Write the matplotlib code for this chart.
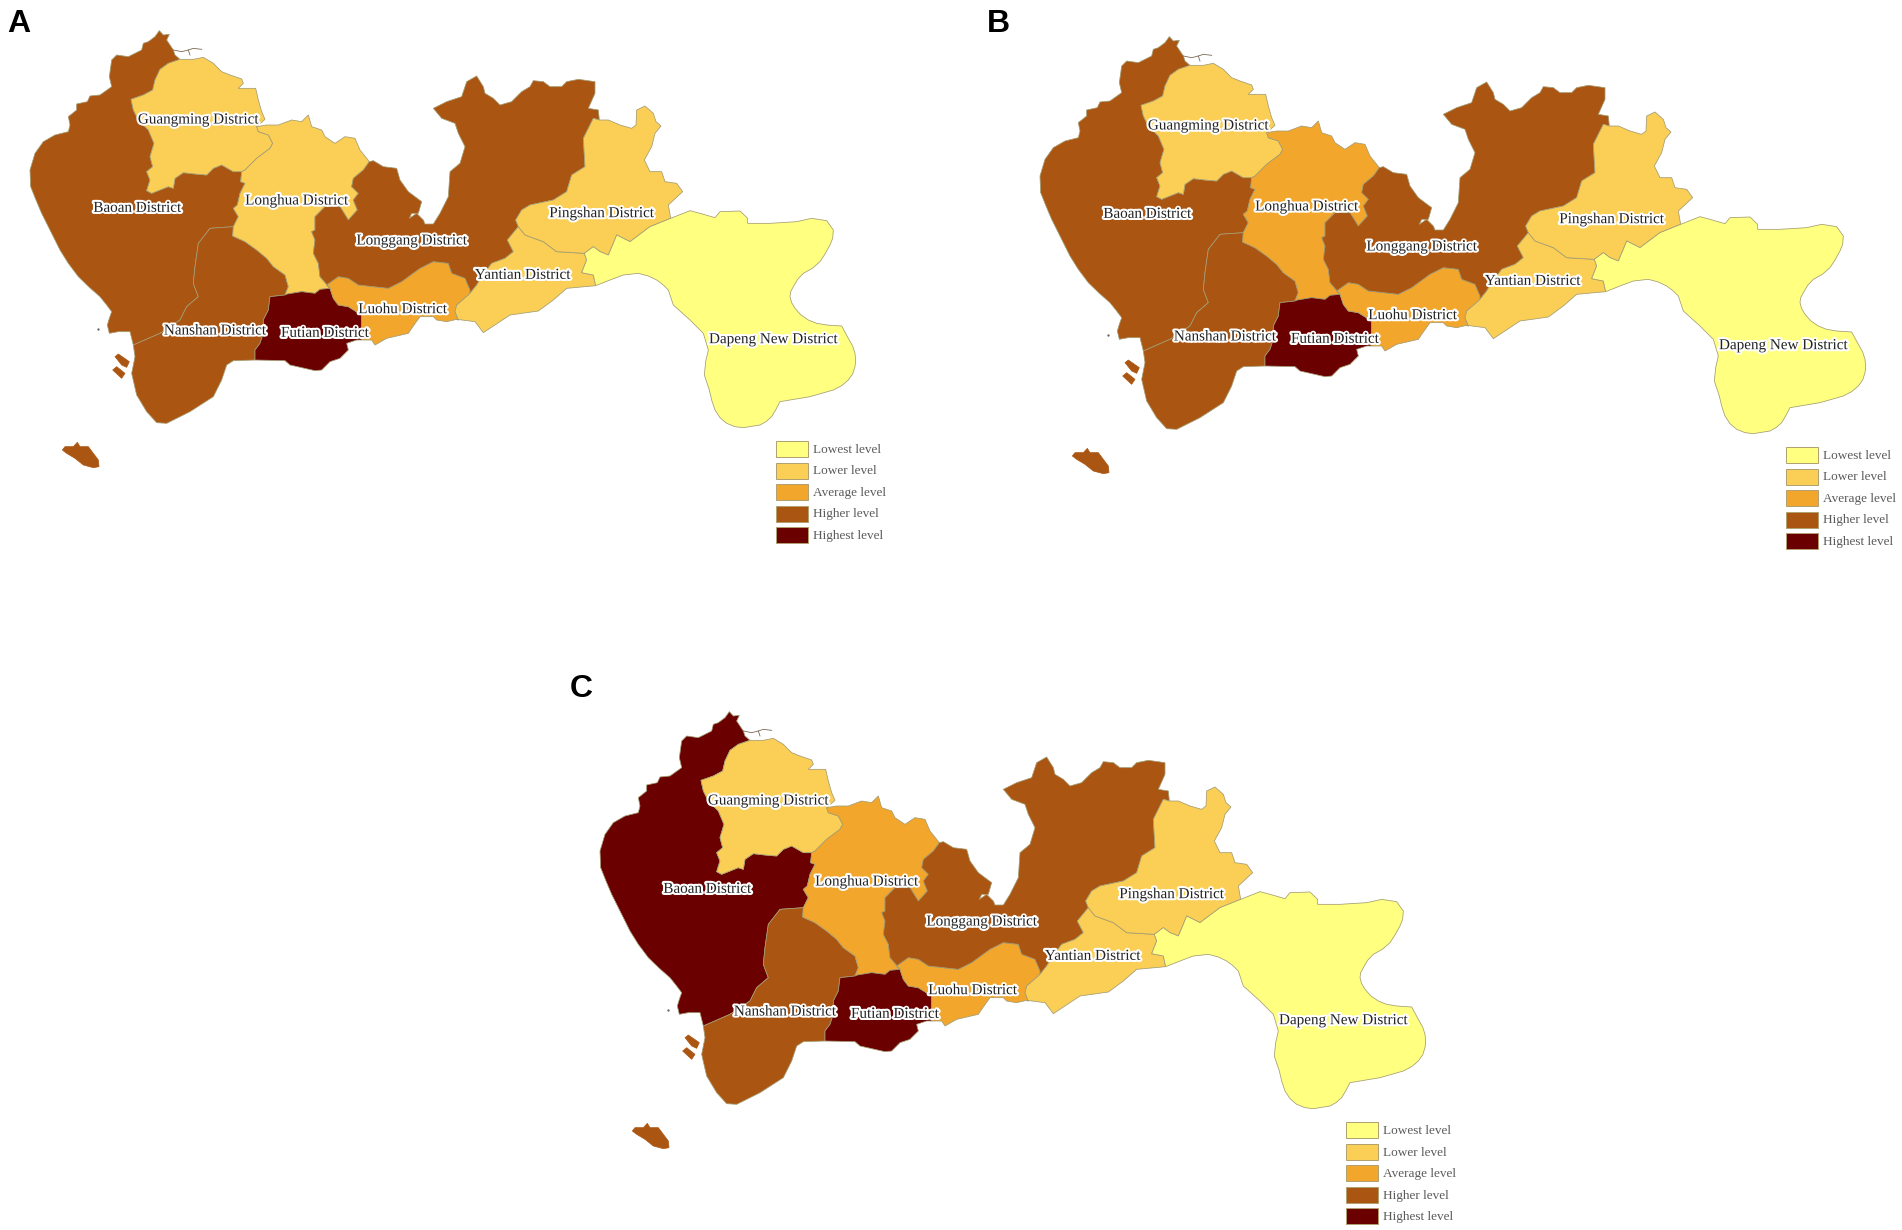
import numpy as np, matplotlib
matplotlib.use('Agg'); import matplotlib.pyplot as plt
from matplotlib.patches import Polygon, Rectangle
import matplotlib.patheffects as pe

# district borders, map units are 1/3 px of panel A
baoan_guangming=[(540,178),(505,190),(480,208),(465,240),(458,270),(430,285),(393,298),(400,330),(415,360),(445,390),(462,430),(450,470),(458,500),(440,515),(450,540),(440,572),(455,580),(480,570),(505,560),(520,565),(525,535),(550,518),(585,522),(620,525),(640,505),(665,495),(700,515),(725,515)]
baoan_longhua=[(725,515),(722,545),(735,550),(720,580),(712,615),(700,625),(715,650),(700,680)]
baoan_nanshan=[(700,680),(630,685),(595,730),(585,800),(580,850),(595,890),(560,920),(540,960),(480,1000),(400,1035)]
baoan_coast=[(400,1035),(390,995),(355,995),(328,1000),(322,975),(328,955),(335,935),(320,915),(300,890),(268,862),(235,830),(205,790),(180,750),(150,690),(125,640),(108,600),(92,560),(90,510),(105,460),(130,425),(165,405),(205,395),(210,375),(205,350),(230,330),(230,312),(262,305),(270,288),(300,285),(335,260),(328,230),(335,180),(350,165),(385,170),(425,150),(430,130),(445,125),(465,110),(478,92),(490,105),(508,103),(500,120),(520,150),(525,165),(540,178)]
nanshan_longhua=[(700,680),(698,708),(735,725),(770,750),(800,775),(820,800),(855,825),(865,860),(855,885)]
nanshan_futian=[(855,885),(810,890),(805,930),(790,960),(790,1000),(780,1030),(765,1050),(765,1080)]
nanshan_coast=[(765,1080),(700,1082),(680,1095),(665,1140),(640,1190),(570,1235),(500,1270),(470,1268),(440,1235),(410,1185),(395,1120),(405,1070),(400,1035)]
guangming_north=[(540,178),(580,178),(610,172),(640,190),(665,215),(690,225),(725,237),(730,250),(715,265),(745,265),(767,265),(775,300),(785,335),(795,358),(770,380)]
guangming_longhua=[(770,380),(775,395),(805,405),(818,430),(810,445),(770,475),(735,510),(725,515)]
longhua_north=[(770,380),(800,375),(835,375),(875,360),(905,365),(925,345),(935,380),(965,390),(975,410),(1005,430),(1035,410),(1065,415),(1080,450),(1108,485)]
longhua_longgang=[(1108,485),(1090,510),(1060,535),(1055,560),(1075,580),(1060,600),(1072,630),(1045,660),(1020,620),(975,620),(945,650),(945,690),(935,695),(945,720),(940,760),(955,790),(960,830),(990,865)]
longhua_futian=[(990,865),(960,868),(945,880),(905,875),(862,882),(855,885)]
futian_luohu=[(990,865),(1000,895),(1015,915),(1045,920),(1085,945),(1085,1020)]
futian_coast=[(1085,1020),(1070,1020),(1040,1030),(1045,1050),(1020,1075),(990,1085),(965,1110),(945,1112),(870,1095),(855,1082),(765,1080)]
longgang_luohu=[(990,865),(980,855),(1015,830),(1045,835),(1075,855),(1120,860),(1165,865),(1205,845),(1260,805),(1300,785),(1345,790),(1355,820),(1395,835),(1410,870),(1410,880)]
longgang_north=[(1108,485),(1120,482),(1150,500),(1190,505),(1200,540),(1225,575),(1265,605),(1255,640),(1235,640),(1228,655),(1250,640),(1270,660),(1275,672),(1300,672),(1320,640),(1345,590),(1350,515),(1380,490),(1395,440),(1375,400),(1365,370),(1325,355),(1300,325),(1340,305),(1385,290),(1400,245),(1430,228),(1450,260),(1455,280),(1480,295),(1500,315),(1535,305),(1565,275),(1590,260),(1600,242),(1630,245),(1650,260),(1685,260),(1700,245),(1735,238),(1785,245),(1785,280),(1765,325),(1795,330),(1798,360)]
longgang_pingshan=[(1798,360),(1780,355),(1750,415),(1755,500),(1715,525),(1700,575),(1660,600),(1590,615),(1565,630),(1547,660),(1555,680)]
longgang_yantian=[(1555,680),(1522,720),(1540,755),(1515,775),(1475,790),(1445,830),(1430,855),(1410,880)]
luohu_yantian=[(1410,880),(1405,885),(1370,915),(1365,935),(1375,960),(1370,958)]
luohu_coast=[(1370,958),(1340,965),(1310,960),(1300,950),(1260,950),(1235,985),(1225,1000),(1160,1015),(1125,1035),(1115,1020),(1085,1020)]
yantian_pingshan=[(1555,680),(1575,705),(1630,725),(1670,755),(1753,760)]
yantian_dapeng=[(1753,760),(1760,780),(1745,818),(1780,825),(1787,857)]
yantian_coast=[(1787,857),(1700,865),(1660,900),(1615,933),(1530,945),(1450,998),(1425,965),(1370,958)]
pingshan_north=[(1798,360),(1825,360),(1860,375),(1895,385),(1908,375),(1910,330),(1935,318),(1960,340),(1968,365),(1983,378),(1965,400),(1955,440),(1933,480),(1950,515),(1985,515),(1995,545),(2030,550),(2048,575),(2005,615),(2012,655)]
pingshan_dapeng=[(2012,655),(1950,680),(1890,725),(1850,705),(1840,730),(1825,765),(1800,755),(1780,740),(1753,760)]
dapeng_coast=[(2012,655),(2070,632),(2100,640),(2145,653),(2160,635),(2220,633),(2243,655),(2243,670),(2310,670),(2390,665),(2435,655),(2480,662),(2500,690),(2498,715),(2490,735),(2475,762),(2460,785),(2437,805),(2410,820),(2393,838),(2380,860),(2372,875),(2370,890),(2375,908),(2385,925),(2403,945),(2425,960),(2450,970),(2480,975),(2525,978),(2545,1015),(2558,1038),(2565,1060),(2567,1082),(2565,1100),(2558,1122),(2545,1140),(2525,1157),(2500,1170),(2430,1190),(2340,1205),(2328,1228),(2315,1250),(2298,1265),(2280,1275),(2230,1283),(2205,1280),(2180,1270),(2160,1253),(2145,1230),(2135,1200),(2128,1170),(2113,1125),(2117,1085),(2125,1050),(2110,1000),(2070,960),(2020,915),(2005,870),(1990,855),(1970,840),(1945,828),(1915,820),(1870,825),(1830,840),(1787,857)]
island_big=[(187,1350),(195,1340),(220,1340),(232,1327),(240,1340),(265,1340),(280,1360),(295,1380),(297,1400),(280,1403),(250,1395),(225,1375),(200,1360)]
island_n=[(345,1070),(355,1062),(388,1085),(380,1102),(365,1095)]
island_s=[(338,1110),(350,1100),(375,1120),(365,1135)]
inlet_a=[(520,150),(545,155),(565,150),(580,145),(605,148)]
inlet_b=[(565,150),(570,165)]

def rev(e): return e[::-1]
districts={
 'Baoan':baoan_guangming+baoan_longhua+baoan_nanshan+baoan_coast,
 'Nanshan':rev(baoan_nanshan)+nanshan_longhua+nanshan_futian+nanshan_coast,
 'Guangming':guangming_north+guangming_longhua+rev(baoan_guangming),
 'Longhua':longhua_north+longhua_longgang+longhua_futian+rev(nanshan_longhua)+rev(baoan_longhua)+rev(guangming_longhua),
 'Futian':rev(longhua_futian)+futian_luohu+futian_coast+rev(nanshan_futian),
 'Luohu':longgang_luohu+luohu_yantian+luohu_coast+rev(futian_luohu),
 'Longgang':longgang_north+longgang_pingshan+longgang_yantian+rev(longgang_luohu)+rev(longhua_longgang),
 'Yantian':yantian_pingshan+yantian_dapeng+yantian_coast+rev(luohu_yantian)+rev(longgang_yantian),
 'Pingshan':pingshan_north+pingshan_dapeng+rev(yantian_pingshan)+rev(longgang_pingshan),
 'Dapeng':dapeng_coast+rev(yantian_dapeng)+rev(pingshan_dapeng),
}
names=['Baoan','Nanshan','Guangming','Longhua','Futian','Luohu','Longgang','Yantian','Pingshan','Dapeng']
labels=['Baoan District','Nanshan District','Guangming District','Longhua District','Futian District','Luohu District','Longgang District','Yantian District','Pingshan District','Dapeng New District']
label_x=[412,645,595,890,975,1208,1235,1568,1805,2320]
label_y=[625,993,360,603,1000,929,723,826,641,1019]
# level index per district, same order as names
levels_a=[3,3,1,1,4,2,3,1,1,0]
levels_b=[3,3,1,2,4,2,3,1,1,0]
levels_c=[4,3,1,2,4,2,3,1,1,0]
level_names=['Lowest level','Lower level','Average level','Higher level','Highest level']
colors=['#FFFF80','#FBCE55','#F3A62C','#AB5512','#6B0000']
edge='#a39c72'

W,H=1902,1230
fig=plt.figure(figsize=(W/100,H/100),dpi=100,facecolor='white')

def panel(letter,levels,ox,oy,lx,ly):
    w,h=2800,1640
    ax=fig.add_axes([ox/W,1-(oy+h/3)/H,w/3/W,h/3/H])
    ax.set_xlim(0,w); ax.set_ylim(h,0); ax.axis('off'); ax.patch.set_alpha(0)
    for nm,lv in zip(names,levels):
        ax.add_patch(Polygon(districts[nm],closed=True,fc=colors[lv],ec=edge,lw=0.55,joinstyle='round'))
    for isl in (island_big,island_n,island_s):
        ax.add_patch(Polygon(isl,closed=True,fc=colors[3],ec=colors[3],lw=0.5))
    for e in (inlet_a,inlet_b):
        ax.plot(*zip(*e),color='#7a6a55',lw=0.6)
    ax.plot([294],[987],'.',color='#555555',ms=1.2)
    for t,x,y in zip(labels,label_x,label_y):
        ax.text(x,y,t,ha='center',va='center',family='Liberation Serif',fontsize=10.9,color='#222222',
                path_effects=[pe.withStroke(linewidth=3,foreground='white')])
    for i,(c,t) in enumerate(zip(colors,level_names)):
        y=1324+i*64.5
        ax.add_patch(Rectangle((2329,y),94,48,fc=c,ec='#b0a070',lw=0.7))
        ax.text(2440,y+26,t,ha='left',va='center',family='Liberation Serif',fontsize=9.5,color='#5a5a5a')
    fig.text(lx/W,1-ly/H,letter,family='Liberation Sans',weight='bold',fontsize=23,ha='left',va='baseline',color='black')

panel('A',levels_a,0,0,7,32)
panel('B',levels_b,1010,6,987,32)
panel('C',levels_c,570,681,570,697)
fig.savefig('out.png',dpi=100)
